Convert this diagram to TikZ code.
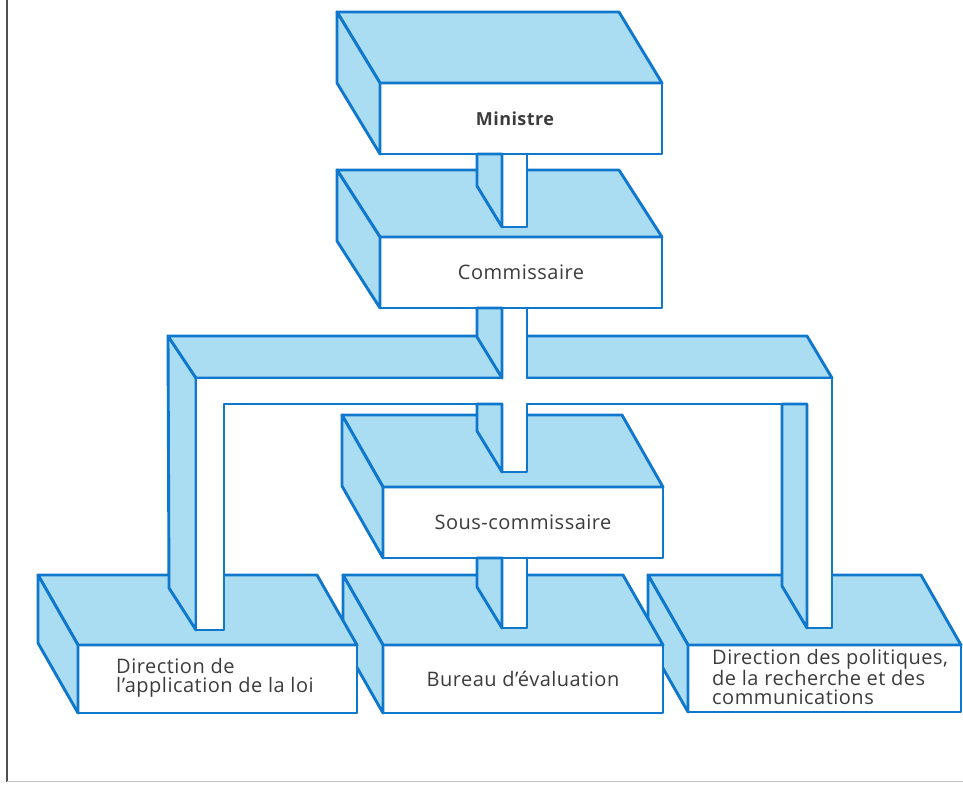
\documentclass[tikz,border=0pt]{standalone}
\usepackage{fontspec}
\setmainfont[LetterSpace=2.5]{Open Sans}
\definecolor{slabblue}{RGB}{16,120,204}
\definecolor{slabfill}{RGB}{170,220,242}
\definecolor{ink}{RGB}{60,60,60}
\definecolor{rule}{RGB}{80,80,80}
\tikzset{
  edge/.style={draw=slabblue, line width=2.9pt, line join=round, line cap=round},
  side/.style={edge, fill=slabfill},
  face/.style={edge, fill=white, rectangle, inner sep=0pt, outer sep=0pt,
               text=ink, font=\fontsize{20}{20}\selectfont},
  lbl/.style={inner sep=0pt, text=ink, align=left, font=\fontsize{20}{19.5}\selectfont},
}

% A slab: white front face (named node) with a shaded top face and left face.
% [node options]{name}{cx}{cy}{width}{height}{depth x}{depth y}{text}
\newcommand{\slab}[9][]{%
  \node[face, minimum width=#5pt, minimum height=#6pt, #1] (#2) at (#3,#4) {#9};
  \filldraw[side] (#2.north west) -- ([shift={(-#7,-#8)}]#2.north west)
     -- ([shift={(-#7,-#8)}]#2.north east) -- (#2.north east) -- cycle;
  \filldraw[side] (#2.north west) -- ([shift={(-#7,-#8)}]#2.north west)
     -- ([shift={(-#7,-#8)}]#2.south west) -- (#2.south west) -- cycle;
}

% A square post hanging from one slab onto the top face of the slab below.
% {upper node}{lower node}{rise of the foot above the lower front edge}{prefix}
\newcommand{\orgpost}[4]{%
  \coordinate (#4top) at (#1.south -| 502,0);
  \coordinate (#4foot) at ([yshift=#3]#2.north -| 502,0);
  \fill[white] ([yshift=-1.4pt]#4top) rectangle (#4foot -| 527,0);
  \filldraw[side] (#1.south -| 477,0) -- (#4top) -- (#4foot)
     -- ([shift={(-25,-41)}]#4foot) -- cycle;
  \draw[edge] (#4top) -- (#4foot) -- (#4foot -| 527,0) -- (#4top -| 527,0);
}

\begin{document}
\begin{tikzpicture}[x=1pt,y=-1pt]
\useasboundingbox (0,0) rectangle (963,785);

% page rules
\draw[rule, line width=1.4pt] (7,0) -- (7,782);
\draw[rule!35, line width=0.8pt] (7,781) -- (963,781);

% bottom row, drawn right to left so each slab hides the side of its neighbour
\slab{polbox}{824.5}{678.5}{273}{67}{40}{70}{}
\slab{bureau}{523}{679}{280}{68}{40}{70}{Bureau d’évaluation}
\slab{lawbox}{217.5}{679}{279}{68}{40}{70}{}
\node[lbl, anchor=west] (lawtxt) at (116,678) {Direction de\\l’application de la loi};
\node[lbl, anchor=west] (poltxt) at (712,677) {Direction des politiques,\\de la recherche et des\\communications};

% crossbar with its two legs
\filldraw[side] (168,336) -- (196,378) -- (196,630) -- (169,588) -- cycle;
\filldraw[side] (168,336) -- (807,336) -- (832,378) -- (196,378) -- cycle;
\filldraw[edge, fill=white] (196,378) -- (832,378) -- (832,628) -- (807,628)
   -- (807,404) -- (224,404) -- (224,630) -- (196,630) -- cycle;
\filldraw[side] (782,404) -- (807,404) -- (807,628) -- (782,586) -- cycle;

% deputy commissioner, commissioner, minister
\slab{sous}{523}{522.5}{280}{71}{41}{72}{Sous-commissaire}
\slab{com}{521}{272.5}{282}{71}{43}{67}{Commissaire}
\slab{min}{521}{118.5}{282}{71}{43}{71}{\hspace*{-12pt}\fontsize{18}{18}\selectfont\bfseries Ministre}

% posts between the slabs
\orgpost{min}{com}{10pt}{pa}
\orgpost{sous}{bureau}{17pt}{pd}

% central post running through the crossbar
\coordinate (cTop) at (com.south -| 502,0);
\coordinate (cFoot) at ([yshift=15pt]sous.north -| 502,0);
\fill[white] ([yshift=-1.4pt]cTop) rectangle (cFoot -| 527,0);
\filldraw[side] (com.south -| 477,0) -- (cTop) -- (502,378) -- (477,337) -- cycle;
\filldraw[side] (477,404) -- (502,404) -- (cFoot) -- ++(-25,-41) -- cycle;
\draw[edge] (cTop) -- (502,378) (cTop -| 527,0) -- (527,378);
\draw[edge] (502,404) -- (cFoot) -- (cFoot -| 527,0) -- (527,404);
\end{tikzpicture}
\end{document}
